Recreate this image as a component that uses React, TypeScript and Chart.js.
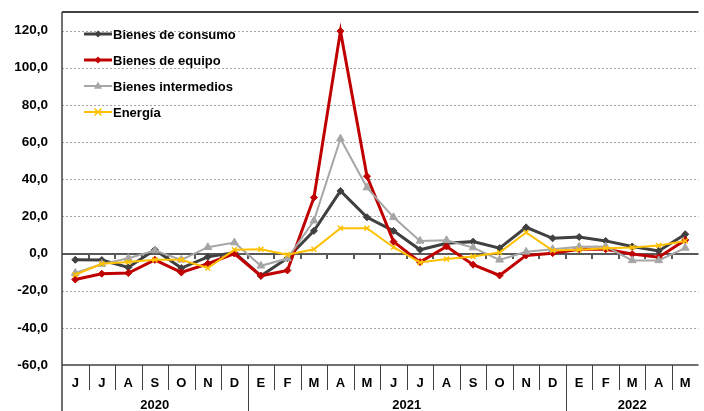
import React, { useEffect, useRef } from 'react';
import { Chart, registerables } from 'chart.js';
Chart.register(...registerables);

const FONT = '"Liberation Sans", Arial, sans-serif';

const months = ['J','J','A','S','O','N','D','E','F','M','A','M','J','J','A','S','O','N','D','E','F','M','A','M'];
const yearLabels = ['2020', '2021', '2022'];
const yearSpans = [7, 12, 5];
const yTicks = [-60, -40, -20, 0, 20, 40, 60, 80, 100, 120];

const consumo = [-3.4, -3.5, -7.5, 2.0, -7.8, -1.8, 0.5, -12.0, -2.5, 12.2, 33.7, 19.5, 12.2, 2.0, 5.5, 6.4, 2.9, 14.1, 8.2, 8.9, 6.8, 3.8, 1.4, 10.4];
const equipo = [-14.0, -10.9, -10.5, -3.4, -10.2, -5.5, 0.0, -12.0, -9.1, 30.2, 119.7, 41.6, 6.4, -4.6, 3.8, -6.0, -11.8, -1.0, 0.2, 2.3, 2.3, -0.3, -2.0, 7.3];
const intermedios = [-10.5, -5.7, -2.5, 1.6, -3.4, 3.4, 5.9, -6.6, -2.7, 17.7, 61.8, 35.5, 19.5, 6.8, 7.1, 3.2, -3.4, 0.9, 2.3, 3.6, 3.8, -3.7, -3.7, 3.0];
const energia = [-11.4, -5.5, -4.6, -3.4, -3.4, -7.8, 2.0, 2.3, -0.7, 2.3, 13.6, 13.6, 3.4, -4.8, -3.0, -1.6, 0.5, 11.3, 1.6, 2.0, 2.9, 3.2, 4.3, 6.8];

const seriesNames = ['Bienes de consumo', 'Bienes de equipo', 'Bienes intermedios', 'Energía'];
const seriesColors = ['#404040', '#C00000', '#A6A6A6', '#FFC000'];
const seriesWidths = [3, 3, 2, 2];
const seriesPoints = ['rectRot', 'rectRot', 'triangle', 'crossRot'];

function drawMarker(ctx: CanvasRenderingContext2D, kind: string, x: number, y: number, color: string) {
  ctx.save();
  ctx.fillStyle = color;
  ctx.strokeStyle = color;
  ctx.setLineDash([]);
  if (kind === 'rectRot') {
    const r = 3.5;
    ctx.beginPath();
    ctx.moveTo(x, y - r); ctx.lineTo(x + r, y); ctx.lineTo(x, y + r); ctx.lineTo(x - r, y); ctx.closePath();
    ctx.fill();
  } else if (kind === 'triangle') {
    const r = 4.5;
    ctx.beginPath();
    ctx.moveTo(x, y - r); ctx.lineTo(x + r * 0.9, y + r * 0.6); ctx.lineTo(x - r * 0.9, y + r * 0.6); ctx.closePath();
    ctx.fill();
  } else {
    const r = 3.5;
    ctx.lineWidth = 1.5;
    ctx.beginPath();
    ctx.moveTo(x - r, y - r); ctx.lineTo(x + r, y + r);
    ctx.moveTo(x + r, y - r); ctx.lineTo(x - r, y + r);
    ctx.stroke();
  }
  ctx.restore();
}

const deco = {
  id: 'deco',
  beforeDatasetsDraw(chart: any) {
    const { ctx, chartArea: a, scales } = chart;
    const y = scales.y;
    ctx.save();
    ctx.strokeStyle = '#A6A6A6';
    ctx.lineWidth = 1;
    ctx.setLineDash([2, 2]);
    for (const v of yTicks) {
      if (v === 0 || v === -60) continue;
      const py = Math.round(y.getPixelForValue(v)) + 0.5;
      ctx.beginPath(); ctx.moveTo(a.left, py); ctx.lineTo(a.right, py); ctx.stroke();
    }
    ctx.setLineDash([]);
    const zy = Math.round(y.getPixelForValue(0));
    ctx.strokeStyle = '#595959';
    ctx.lineWidth = 2;
    ctx.beginPath(); ctx.moveTo(a.left, zy); ctx.lineTo(a.right, zy); ctx.stroke();
    const w = (a.right - a.left) / months.length;
    for (let i = 1; i < months.length; i++) {
      const px = Math.round(a.left + i * w);
      ctx.beginPath(); ctx.moveTo(px, zy); ctx.lineTo(px, zy + 5); ctx.stroke();
    }
    ctx.restore();
  },
  afterDraw(chart: any) {
    const { ctx, chartArea: a, height } = chart;
    ctx.save();
    ctx.strokeStyle = '#404040';
    ctx.lineWidth = 2;
    ctx.beginPath(); ctx.moveTo(a.left, a.top); ctx.lineTo(a.right, a.top); ctx.stroke();
    ctx.lineWidth = 1.5;
    ctx.beginPath(); ctx.moveTo(a.left, a.bottom); ctx.lineTo(a.right, a.bottom); ctx.stroke();
    ctx.beginPath(); ctx.moveTo(a.left, a.top); ctx.lineTo(a.left, height); ctx.stroke();
    const w = (a.right - a.left) / months.length;
    ctx.lineWidth = 1;
    const monthBottom = a.bottom + 25;
    for (let i = 1; i < months.length; i++) {
      const px = Math.round(a.left + i * w) + 0.5;
      ctx.beginPath(); ctx.moveTo(px, a.bottom); ctx.lineTo(px, monthBottom); ctx.stroke();
    }
    let acc = 0;
    for (let k = 0; k < yearSpans.length - 1; k++) {
      acc += yearSpans[k];
      const px = Math.round(a.left + acc * w) + 0.5;
      ctx.beginPath(); ctx.moveTo(px, monthBottom); ctx.lineTo(px, height); ctx.stroke();
    }
    ctx.fillStyle = '#000';
    ctx.font = `bold 13px ${FONT}`;
    ctx.textAlign = 'center';
    ctx.textBaseline = 'middle';
    for (let i = 0; i < months.length; i++) {
      ctx.fillText(months[i], a.left + (i + 0.5) * w, a.bottom + 18);
    }
    acc = 0;
    for (let k = 0; k < yearSpans.length; k++) {
      const cx = a.left + (acc + yearSpans[k] / 2) * w;
      ctx.fillText(yearLabels[k], cx, a.bottom + 40);
      acc += yearSpans[k];
    }
    ctx.textAlign = 'left';
    ctx.font = `bold 13px ${FONT}`;
    const rows = [34, 60, 86, 112];
    for (let s = 0; s < seriesNames.length; s++) {
      const ry = rows[s];
      ctx.strokeStyle = seriesColors[s];
      ctx.lineWidth = seriesWidths[s];
      ctx.beginPath(); ctx.moveTo(84, ry); ctx.lineTo(112, ry); ctx.stroke();
      drawMarker(ctx, seriesPoints[s], 98, ry, seriesColors[s]);
      ctx.fillStyle = '#000';
      ctx.fillText(seriesNames[s], 113, ry + 1);
    }
    ctx.restore();
  },
};

export default function App() {
  const ref = useRef<HTMLCanvasElement>(null);
  useEffect(() => {
    document.body.style.margin = '0';
    const data = [consumo, equipo, intermedios, energia];
    const chart = new Chart(ref.current!, {
      type: 'line',
      data: {
        labels: months,
        datasets: data.map((d, s) => ({
          label: seriesNames[s],
          data: d,
          borderColor: seriesColors[s],
          backgroundColor: seriesColors[s],
          borderWidth: seriesWidths[s],
          pointStyle: seriesPoints[s] as any,
          pointRadius: seriesPoints[s] === 'triangle' ? 4.5 : 3.5,
          pointBorderWidth: seriesPoints[s] === 'crossRot' ? 1.5 : 1,
          pointBorderColor: seriesColors[s],
          pointBackgroundColor: seriesColors[s],
          tension: 0,
          order: 3 - s,
        })),
      },
      options: {
        animation: false,
        responsive: true,
        maintainAspectRatio: false,
        layout: { padding: { top: 12, bottom: 46, left: 0, right: 0 } },
        plugins: { legend: { display: false }, tooltip: { enabled: false } },
        scales: {
          x: { type: 'category', offset: true, display: false },
          y: {
            min: -60,
            max: 130,
            afterBuildTicks: (s: any) => { s.ticks = yTicks.map((v) => ({ value: v })); },
            afterFit: (s: any) => { s.width = 62; s.paddingTop = 0; s.paddingBottom = 0; },
            grid: { display: false, drawTicks: false, tickLength: 0 },
            border: { display: false },
            ticks: {
              color: '#000',
              padding: 14,
              font: { family: FONT, size: 13.5, weight: 'bold' },
              callback: (v: any) => Number(v).toFixed(1).replace('.', ','),
            },
          },
        },
      },
      plugins: [deco],
    });
    return () => chart.destroy();
  }, []);
  return (
    <div style={{ position: 'absolute', left: 0, top: 0, width: 704, height: 411 }}>
      <canvas ref={ref} />
    </div>
  );
}
